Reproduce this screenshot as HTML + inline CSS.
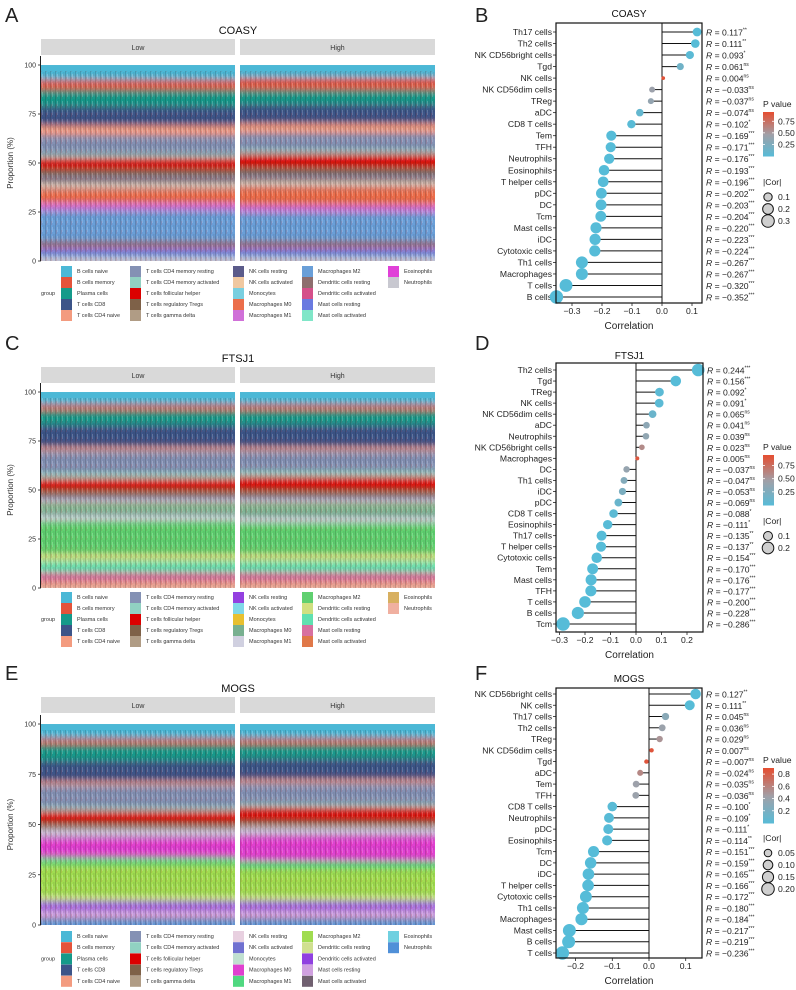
<!DOCTYPE html>
<html><head><meta charset="utf-8"><style>
html,body{margin:0;padding:0;background:#fff;}
svg{display:block;font-family:"Liberation Sans",Arial,sans-serif;}
</style></head><body>
<svg id="fig" width="796" height="990" viewBox="0 0 796 990" xmlns="http://www.w3.org/2000/svg">
<defs>
<pattern id="stripes" width="5" height="9" patternUnits="userSpaceOnUse">
<rect x="0" y="0" width="1" height="9" fill="rgba(0,0,0,0.16)"/>
<rect x="2" y="2" width="1" height="5" fill="rgba(255,255,255,0.18)"/>
<rect x="3.5" y="0" width="0.8" height="4" fill="rgba(0,0,0,0.12)"/>
<rect x="1.2" y="5" width="0.8" height="4" fill="rgba(200,40,40,0.18)"/>
</pattern>
<filter id="vblur" x="0" y="-0.05" width="1" height="1.1"><feGaussianBlur stdDeviation="0 3.5"/></filter>
</defs>
</svg>
<script>
// ---------- stacked bar data ----------
const cellTypes = ["B cells naive","B cells memory","Plasma cells","T cells CD8","T cells CD4 naive","T cells CD4 memory resting","T cells CD4 memory activated","T cells follicular helper","T cells regulatory Tregs","T cells gamma delta","NK cells resting","NK cells activated","Monocytes","Macrophages M0","Macrophages M1","Macrophages M2","Dendritic cells resting","Dendritic cells activated","Mast cells resting","Mast cells activated","Eosinophils","Neutrophils"];
const groups = ["Low","High"];
const colorsA = ["#4BB8D6","#E4533A","#159A8A","#3C5488","#F39B7F","#8491B4","#91D1C2","#DC0000","#7E6148","#B09C85","#5B5B8A","#F0C8A0","#79CFE0","#EB6E4B","#D070D8","#6A9FD8","#8E6E6E","#D5508A","#6A7AE0","#80E6C8","#E040D8","#C8C8D0"];
const colorsC = ["#4BB8D6","#E4533A","#159A8A","#3C5488","#F39B7F","#8491B4","#91D1C2","#DC0000","#7E6148","#B09C85","#9440E0","#80D8E8","#E8C030","#78B090","#D0D0E0","#60D070","#D0E080","#60E0B0","#D870A0","#E07848","#D8B060","#F0B0A0"];
const colorsE = ["#4BB8D6","#E4533A","#159A8A","#3C5488","#F39B7F","#8491B4","#91D1C2","#DC0000","#7E6148","#B09C85","#E8D0E0","#7070D0","#C0E0D0","#E040D0","#50D880","#A0DC50","#D0E090","#9040E0","#D0A0E0","#706070","#70D0E0","#5090D8"];
const compA_low  = [8,5,9,10,5,10,2,6,3,1,3,2,1,8,4,16,3,1,4,1,0.5,1];
const compA_high = [7,6,8,10,5,9,2,7,3,1,3,2,1,10,4,15,3,1,4,1,0.5,1];
const compC_low  = [7,3,8,12,2,12,3,6,3,2,1,1,1,6,3,18,4,6,5,1,0.5,2];
const compC_high = [7,3,8,12,2,11,3,7,3,2,1,1,1,7,3,17,4,6,5,1,0.5,2];
const compE_low  = [8,3,9,11,2,12,2,6,3,1,2,1,1,11,4,17,3,4,5,1,0.5,2];
const compE_high = [8,3,8,11,2,11,2,7,3,1,2,1,1,14,4,15,3,4,5,1,0.5,2];
const yTicksStack = [0,25,50,75,100];

// ---------- lollipop data ----------
const namesB = ["Th17 cells","Th2 cells","NK CD56bright cells","Tgd","NK cells","NK CD56dim cells","TReg","aDC","CD8 T cells","Tem","TFH","Neutrophils","Eosinophils","T helper cells","pDC","DC","Tcm","Mast cells","iDC","Cytotoxic cells","Th1 cells","Macrophages","T cells","B cells"];
const corB = [0.117,0.111,0.093,0.061,0.004,-0.033,-0.037,-0.074,-0.102,-0.169,-0.171,-0.176,-0.193,-0.196,-0.202,-0.203,-0.204,-0.220,-0.223,-0.224,-0.267,-0.267,-0.320,-0.352];
const sigB = ["**","**","*","ns","ns","ns","ns","ns","*","***","***","***","***","***","***","***","***","***","***","***","***","***","***","***"];
const pB = [0.005,0.008,0.03,0.17,0.93,0.45,0.40,0.09,0.02,0,0,0,0,0,0,0,0,0,0,0,0,0,0,0];
const ticksB = [-0.3,-0.2,-0.1,0.0,0.1];
const pTicksB = [0.25,0.50,0.75];
const sizeTicksB = [0.1,0.2,0.3];

const namesD = ["Th2 cells","Tgd","TReg","NK cells","NK CD56dim cells","aDC","Neutrophils","NK CD56bright cells","Macrophages","DC","Th1 cells","iDC","pDC","CD8 T cells","Eosinophils","Th17 cells","T helper cells","Cytotoxic cells","Tem","Mast cells","TFH","T cells","B cells","Tcm"];
const corD = [0.244,0.156,0.092,0.091,0.065,0.041,0.039,0.023,0.005,-0.037,-0.047,-0.053,-0.069,-0.088,-0.111,-0.135,-0.137,-0.154,-0.170,-0.176,-0.177,-0.200,-0.228,-0.286];
const sigD = ["***","***","*","*","ns","ns","ns","ns","ns","ns","ns","ns","ns","*","*","**","**","***","***","***","***","***","***","***"];
const pD = [0,0,0.03,0.03,0.13,0.35,0.38,0.6,0.9,0.41,0.29,0.24,0.12,0.04,0.01,0.002,0.002,0,0,0,0,0,0,0];
const ticksD = [-0.3,-0.2,-0.1,0.0,0.1,0.2];
const pTicksD = [0.25,0.50,0.75];
const sizeTicksD = [0.1,0.2];

const namesF = ["NK CD56bright cells","NK cells","Th17 cells","Th2 cells","TReg","NK CD56dim cells","Tgd","aDC","Tem","TFH","CD8 T cells","Neutrophils","pDC","Eosinophils","Tcm","DC","iDC","T helper cells","Cytotoxic cells","Th1 cells","Macrophages","Mast cells","B cells","T cells"];
const corF = [0.127,0.111,0.045,0.036,0.029,0.007,-0.007,-0.024,-0.035,-0.036,-0.100,-0.109,-0.111,-0.114,-0.151,-0.159,-0.165,-0.166,-0.172,-0.180,-0.184,-0.217,-0.219,-0.236];
const sigF = ["**","**","ns","ns","ns","ns","ns","ns","ns","ns","*","*","*","**","***","***","***","***","***","***","***","***","***","***"];
const pF = [0.003,0.008,0.31,0.42,0.52,0.87,0.87,0.59,0.43,0.42,0.02,0.015,0.013,0.009,0,0,0,0,0,0,0,0,0,0];
const ticksF = [-0.2,-0.1,0.0,0.1];
const pTicksF = [0.2,0.4,0.6,0.8];
const sizeTicksF = [0.05,0.10,0.15,0.20];

// ---------- drawing ----------
const svg = document.getElementById('fig');
const NS = "http://www.w3.org/2000/svg";
function mk(tag, attrs, parent, txt){
  const e = document.createElementNS(NS, tag);
  for (const k in attrs) e.setAttribute(k, attrs[k]);
  if (txt !== undefined) e.textContent = txt;
  (parent||svg).appendChild(e);
  return e;
}
function grp(parent){ return mk('g', {}, parent); }
const defs = svg.querySelector('defs');

[["A",5,22],["B",475,22],["C",5,350],["D",475,350],["E",5,680],["F",475,680]].forEach(l=>{
  const t = mk('text',{x:l[1],y:l[2],'font-size':20,fill:'#222'},svg,l[0]);
  
  
});

function stackPanel(cfg){
  const g = grp(svg);
  
  
  const t = mk('text',{x:238,y:cfg.titleY,'font-size':11,'text-anchor':'middle',fill:'#111'},g,cfg.title);
  
  
  const y0 = cfg.y0, y100 = cfg.y100;
  const yS = v => y0 + (y100 - y0) * v / 100;
  const facets = [{x1:41,x2:235},{x1:240,x2:435}];
  groups.forEach((gname,gi)=>{
    const f = facets[gi];
    const s = mk('rect',{x:f.x1,y:cfg.stripY,width:f.x2-f.x1,height:16,fill:'#D9D9D9'},g);
    
    
    const st = mk('text',{x:(f.x1+f.x2)/2,y:cfg.stripY+11,'font-size':7,'text-anchor':'middle',fill:'#333'},g,gname);
    
    
    const cid = 'clip-'+cfg.key+'-'+gi;
    const cp = mk('clipPath',{id:cid},defs);
    mk('rect',{x:f.x1,y:y100,width:f.x2-f.x1,height:y0-y100},cp);
    const outer = mk('g',{'clip-path':`url(#${cid})`},g);
    const sg = mk('g',{filter:'url(#vblur)'},outer);
    
    
    const comp = gi===0 ? cfg.low : cfg.high;
    const total = comp.reduce((a,b)=>a+b,0);
    let cum = 0;
    for (let i=0;i<comp.length;i++){
      const top = 100 - cum/total*100;
      cum += comp[i];
      const bot = 100 - cum/total*100;
      const ext0 = i===0 ? -6 : 0, ext1 = i===comp.length-1 ? 6 : 0;
      const r = mk('rect',{x:f.x1,y:yS(top)+ext0,width:f.x2-f.x1,height:Math.max(0,yS(bot)-yS(top))-ext0+ext1,fill:cfg.colors[i]},sg);
      
      
    }
    const ov = mk('rect',{x:f.x1,y:y100+6,width:f.x2-f.x1,height:y0-y100-6,fill:'url(#stripes)'},outer);
    
    
  });
  mk('line',{x1:40.5,x2:40.5,y1:y100-9,y2:y0,stroke:'#222','stroke-width':1},g);
  yTicksStack.forEach(v=>{
    mk('line',{x1:38,x2:41,y1:yS(v),y2:yS(v),stroke:'#222','stroke-width':0.8},g);
    const tt = mk('text',{x:36,y:yS(v)+2.5,'font-size':7,'text-anchor':'end',fill:'#333'},g,String(v));
    
    
  });
  const yl = mk('text',{x:13,y:(y0+y100)/2,'font-size':8,'text-anchor':'middle',fill:'#333',transform:`rotate(-90 13 ${(y0+y100)/2})`},g,'Proportion (%)');
  
  
  const colX = [61,130,233,302,388];
  const perCol = [5,5,5,5,2];
  const gl = mk('text',{x:41,y:cfg.legY+2*cfg.legStep+2,'font-size':5.5,fill:'#333'},g,'group');
  
  
  let idx = 0;
  colX.forEach((cx,ci)=>{
    for (let r=0;r<perCol[ci];r++){
      const yy = cfg.legY + r*cfg.legStep;
      const le = grp(g);
      
      
      mk('rect',{x:cx,y:yy-5,width:11,height:11,fill:cfg.colors[idx]},le);
      mk('text',{x:cx+16,y:yy+2,'font-size':5.5,fill:'#333'},le,cellTypes[idx]);
      idx++;
    }
  });
}

stackPanel({key:'coasy',title:'COASY',titleY:34,stripY:39,y0:261,y100:65,low:compA_low,high:compA_high,colors:colorsA,legY:271,legStep:11});
stackPanel({key:'ftsj1',title:'FTSJ1',titleY:362,stripY:367,y0:588,y100:392,low:compC_low,high:compC_high,colors:colorsC,legY:597,legStep:11});
stackPanel({key:'mogs',title:'MOGS',titleY:692,stripY:697,y0:925,y100:724,low:compE_low,high:compE_high,colors:colorsE,legY:936,legStep:11.2});

function pColor(p, pmax){
  const t = Math.min(1, p/pmax);
  const blue=[86,188,216], gray=[160,160,168], red=[228,80,52];
  let a,b,u;
  if (t<0.5){a=blue;b=gray;u=t/0.5;} else {a=gray;b=red;u=(t-0.5)/0.5;}
  const c = a.map((v,i)=>Math.round(v+(b[i]-v)*u));
  return `rgb(${c[0]},${c[1]},${c[2]})`;
}

function lollipop(cfg){
  const g = grp(svg);
  
  
  const n = cfg.names.length;
  const xS = v => cfg.zeroX + v*cfg.scale;
  const yS = i => cfg.row0 + i*(cfg.rowN - cfg.row0)/(n-1);
  const maxAbs = Math.max(...cfg.cor.map(Math.abs));
  const rS = v => 1.3 + 5.4*Math.sqrt(Math.abs(v)/maxAbs);
  const t = mk('text',{x:(cfg.left+cfg.right)/2,y:cfg.titleY,'font-size':10,'text-anchor':'middle',fill:'#111'},g,cfg.title);
  
  
  mk('line',{x1:xS(0),x2:xS(0),y1:cfg.top,y2:cfg.bottom,stroke:'#111','stroke-width':1},g);
  cfg.names.forEach((nm,i)=>{
    const y = yS(i), v = cfg.cor[i];
    const lab = mk('text',{x:cfg.left-4,y:y+3,'font-size':8.6,'text-anchor':'end',fill:'#222'},g,nm);
    
    
    mk('line',{x1:cfg.left-3,x2:cfg.left,y1:y,y2:y,stroke:'#222','stroke-width':0.8},g);
    const seg = mk('line',{x1:xS(0),x2:xS(v),y1:y,y2:y,stroke:'#111','stroke-width':1},g);
    
    
    const c = mk('circle',{cx:xS(v),cy:y,r:rS(v),fill:pColor(cfg.p[i],cfg.pmax)},g);
    
    
    const rt = mk('text',{x:cfg.right+4,y:y+3.5,'font-size':8.6,fill:'#222'},g);
    
    
    mk('tspan',{'font-style':'italic'},rt,'R');
    mk('tspan',{},rt,' = '+(v<0?'\u2212':'')+Math.abs(v).toFixed(3));
    mk('tspan',{'font-size':5,dy:-4},rt,cfg.sig[i]);
  });
  mk('rect',{x:cfg.left,y:cfg.top,width:cfg.right-cfg.left,height:cfg.bottom-cfg.top,fill:'none',stroke:'#111','stroke-width':1.2},g);
  cfg.ticks.forEach(v=>{
    mk('line',{x1:xS(v),x2:xS(v),y1:cfg.bottom,y2:cfg.bottom+3,stroke:'#222','stroke-width':0.8},g);
    const tt = mk('text',{x:xS(v),y:cfg.bottom+11,'font-size':8.6,'text-anchor':'middle',fill:'#222'},g,(v<0?'\u2212':'')+Math.abs(v).toFixed(1));
    
    
  });
  const xl = mk('text',{x:(cfg.left+cfg.right)/2,y:cfg.bottom+26,'font-size':10,'text-anchor':'middle',fill:'#222'},g,'Correlation');
  
  
  const lg = grp(g);
  
  
  const lx = 763;
  mk('text',{x:lx,y:cfg.pLegY,'font-size':8.6,fill:'#222'},lg,'P value');
  const barTop = cfg.pLegY+5, barH = cfg.barH;
  const nSteps = 30;
  for (let k=0;k<nSteps;k++){
    const p = cfg.pmax*(1 - k/nSteps);
    mk('rect',{x:lx,y:barTop+k*barH/nSteps,width:11,height:barH/nSteps+0.5,fill:pColor(p,cfg.pmax)},lg);
  }
  cfg.pTicks.forEach(pv=>{
    const yy = barTop + barH*(1 - pv/cfg.pmax);
    mk('line',{x1:lx,x2:lx+2,y1:yy,y2:yy,stroke:'#fff','stroke-width':0.8},lg);
    mk('line',{x1:lx+9,x2:lx+11,y1:yy,y2:yy,stroke:'#fff','stroke-width':0.8},lg);
    mk('text',{x:lx+15,y:yy+3,'font-size':8.6,fill:'#222'},lg,pv.toFixed(cfg.pDigits));
  });
  const sg = grp(g);
  
  
  mk('text',{x:lx,y:cfg.sLegY,'font-size':8.6,fill:'#222'},sg,'|Cor|');
  cfg.sizeTicks.forEach((sv,k)=>{
    const yy = cfg.sLegY + 12 + k*12;
    mk('circle',{cx:lx+5,cy:yy,r:rS(sv),fill:'#CFCFCF',stroke:'#111','stroke-width':1},sg);
    mk('text',{x:lx+15,y:yy+3,'font-size':8.6,fill:'#222'},sg,sv.toFixed(cfg.sizeTicks.length===4?2:1));
  });
}

lollipop({key:'coasy',title:'COASY',titleY:17,names:namesB,cor:corB,sig:sigB,p:pB,ticks:ticksB,pTicks:pTicksB,sizeTicks:sizeTicksB,pmax:0.95,pDigits:2,
  left:556,right:702,top:23,bottom:303,zeroX:662,scale:300,row0:32,rowN:297,pLegY:107,barH:44,sLegY:185});
lollipop({key:'ftsj1',title:'FTSJ1',titleY:359,names:namesD,cor:corD,sig:sigD,p:pD,ticks:ticksD,pTicks:pTicksD,sizeTicks:sizeTicksD,pmax:0.95,pDigits:2,
  left:556,right:703,top:363,bottom:632,zeroX:636,scale:255,row0:370,rowN:624,pLegY:450,barH:50,sLegY:524});
lollipop({key:'mogs',title:'MOGS',titleY:682,names:namesF,cor:corF,sig:sigF,p:pF,ticks:ticksF,pTicks:pTicksF,sizeTicks:sizeTicksF,pmax:0.9,pDigits:1,
  left:556,right:702,top:688,bottom:958,zeroX:649,scale:367,row0:694,rowN:953,pLegY:763,barH:55,sLegY:841});
</script>
</body></html>
